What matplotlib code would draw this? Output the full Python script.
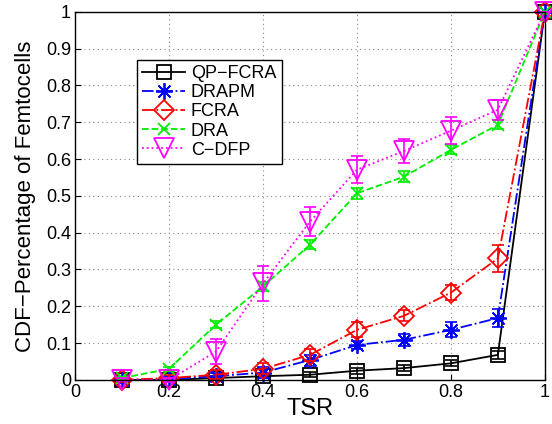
import numpy as np
import matplotlib
matplotlib.use('Agg')
import matplotlib.pyplot as plt

plt.rcParams['font.family'] = ['Liberation Sans', 'DejaVu Sans']

tsr = [0.1, 0.2, 0.3, 0.4, 0.5, 0.6, 0.7, 0.8, 0.9, 1.0]

qp_fcra = [0.0, 0.0, 0.005, 0.01, 0.014, 0.025, 0.032, 0.045, 0.068, 1.0]
qp_fcra_err = [0.003, 0.003, 0.005, 0.006, 0.007, 0.008, 0.008, 0.008, 0.01, 0.0]

drapm = [0.0, 0.002, 0.01, 0.02, 0.054, 0.095, 0.109, 0.136, 0.168, 1.0]
drapm_err = [0.004, 0.006, 0.01, 0.015, 0.015, 0.012, 0.017, 0.02, 0.025, 0.0]

fcra = [0.0, 0.005, 0.014, 0.03, 0.068, 0.136, 0.174, 0.237, 0.33, 1.0]
fcra_err = [0.006, 0.008, 0.012, 0.015, 0.016, 0.02, 0.015, 0.02, 0.036, 0.0]

dra = [0.005, 0.03, 0.15, 0.254, 0.367, 0.507, 0.552, 0.625, 0.693, 1.0]
dra_err = [0.004, 0.006, 0.01, 0.012, 0.012, 0.015, 0.015, 0.012, 0.012, 0.0]

cdfp = [0.0, 0.0, 0.077, 0.262, 0.43, 0.571, 0.622, 0.677, 0.734, 1.0]
cdfp_err = [0.004, 0.006, 0.035, 0.048, 0.04, 0.037, 0.033, 0.036, 0.027, 0.0]

# name, values, errors, colour, linestyle, marker, markersize
series = [
    ('QP\u2212FCRA', qp_fcra, qp_fcra_err, 'k', '-', 's', 10),
    ('DRAPM', drapm, drapm_err, '#0000ff', '-.', (8, 2, 0), 12),
    ('FCRA', fcra, fcra_err, '#ff0000', '-.', 'D', 10),
    ('DRA', dra, dra_err, '#00ee00', '--', 'x', 9),
    ('C\u2212DFP', cdfp, cdfp_err, '#ff00ff', ':', 'v', 15),
]

fig = plt.figure(figsize=(5.52, 4.24), dpi=100)
ax = fig.add_axes([0.136, 0.104, 0.851, 0.868])

handles = []
for name, vals, err, col, ls, mk, ms in series:
    ax.errorbar(tsr, vals, yerr=err, color=col, ls='none', capsize=4,
                elinewidth=1.2, capthick=1.2, clip_on=False)
    h, = ax.plot(tsr, vals, color=col, ls=ls, lw=1.3, marker=mk, ms=ms,
                 mfc='none', mec=col, mew=1.3, clip_on=False, label=name)
    handles.append(h)

ax.set_xlim(0, 1)
ax.set_ylim(0, 1)
ax.set_xticks(np.arange(0, 1.01, 0.2))
ax.set_yticks(np.arange(0, 1.01, 0.1))
ax.set_xticklabels(['0', '0.2', '0.4', '0.6', '0.8', '1'])
ax.set_yticklabels(['0', '0.1', '0.2', '0.3', '0.4', '0.5', '0.6', '0.7', '0.8', '0.9', '1'])
ax.tick_params(labelsize=13, direction='in', length=4, pad=3)
ax.grid(True, ls=(0, (1, 3)), color='#888888', lw=0.8)
for sp in ax.spines.values():
    sp.set_linewidth(1.0)

ax.set_xlabel('TSR', fontsize=17, labelpad=-2)
ax.set_ylabel('CDF\u2212Percentage of Femtocells', fontsize=16, labelpad=7)

leg = ax.legend(handles=handles, loc='upper left', bbox_to_anchor=(0.131, 0.87),
                fontsize=13, fancybox=False, framealpha=1, edgecolor='k',
                borderpad=0.3, labelspacing=0.12, handlelength=2.4,
                handletextpad=0.3, borderaxespad=0)
leg.get_frame().set_linewidth(1.0)

fig.savefig('out.png', dpi=100)
